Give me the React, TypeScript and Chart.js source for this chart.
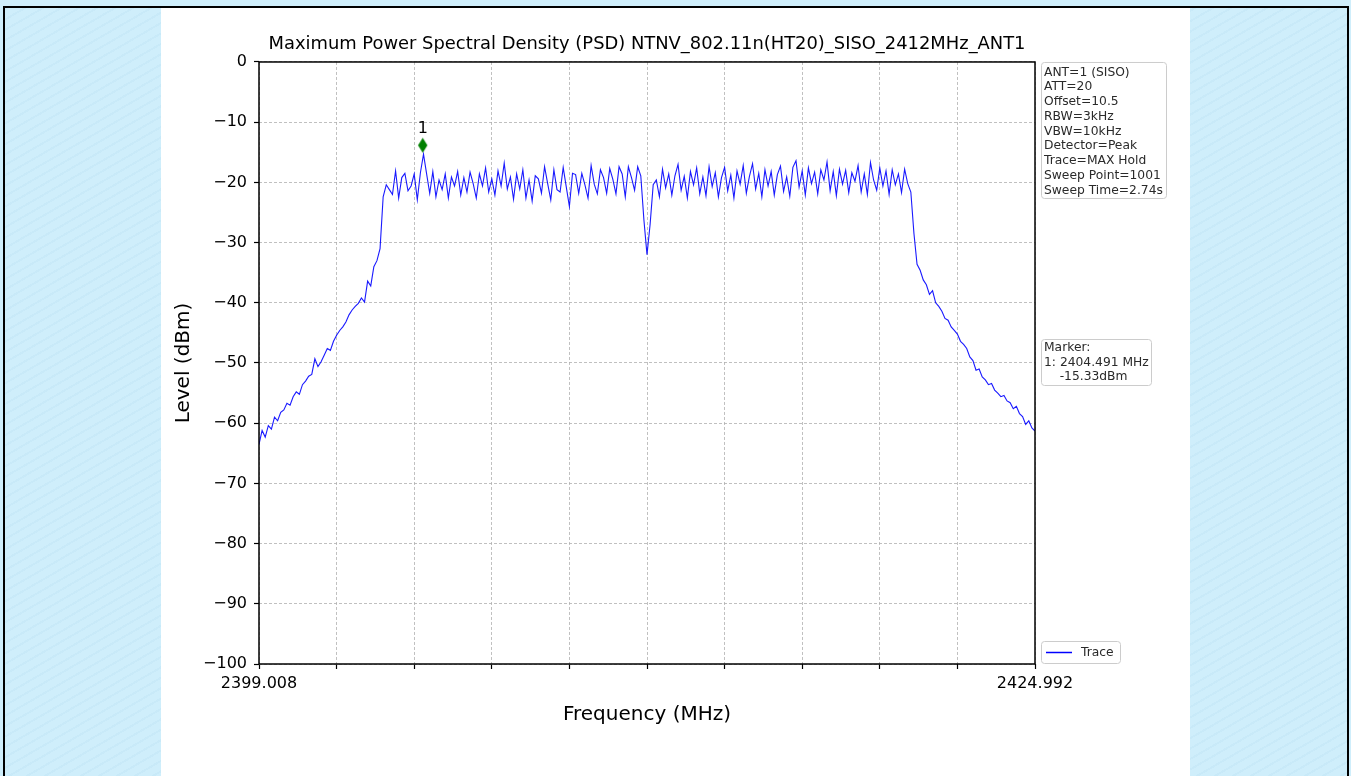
import React, { useEffect, useRef } from 'react';
import { Chart, registerables } from 'chart.js';

Chart.register(...registerables);

const FONT = '"DejaVu Sans", "Liberation Sans", sans-serif';

const START_FREQ = 2399.008;
const STOP_FREQ = 2424.992;

const chartTitle = 'Maximum Power Spectral Density (PSD) NTNV_802.11n(HT20)_SISO_2412MHz_ANT1';
const xAxisTitle = 'Frequency (MHz)';
const yAxisTitle = 'Level (dBm)';

// Trace levels (dBm), evenly spaced sweep points from START_FREQ to STOP_FREQ
const levels = [
  -63.5, -61.2, -62.3, -60.4, -61.0, -59.0, -59.6, -58.2, -57.8, -56.7,
  -57.0, -55.6, -54.8, -55.2, -53.6, -53.0, -52.2, -51.9, -49.3, -50.6,
  -49.8, -48.7, -47.6, -47.9, -46.4, -45.4, -44.6, -44.0, -43.2, -42.0,
  -41.2, -40.6, -40.1, -39.2, -39.9, -36.4, -37.2, -34.0, -33.0, -31.0,
  -22.4, -20.4, -21.2, -22.0, -18.1, -22.6, -19.2, -18.5, -21.4, -20.6,
  -18.6, -22.9, -18.4, -15.3, -18.6, -21.8, -18.2, -22.4, -19.6, -21.2,
  -18.6, -22.6, -19.1, -20.6, -18.2, -22.1, -19.2, -21.6, -18.3, -20.2,
  -22.6, -18.6, -20.6, -17.6, -21.6, -19.4, -22.1, -18.1, -20.6, -16.8,
  -21.1, -19.1, -22.8, -18.6, -21.1, -17.9, -22.6, -19.6, -23.1, -18.9,
  -19.4, -21.8, -17.4, -20.2, -22.9, -17.9, -21.2, -21.6, -17.5, -20.8,
  -24.0, -18.5, -18.7, -21.8, -18.5, -20.4, -22.6, -17.2, -20.3, -21.9,
  -17.9, -19.2, -21.8, -17.7, -19.5, -21.9, -17.4, -18.6, -22.4, -17.4,
  -19.2, -21.3, -17.4, -18.9, -26.2, -32.0, -27.0, -20.4, -19.6, -22.4,
  -17.8, -20.9, -18.6, -22.1, -18.9, -17.0, -21.3, -19.0, -22.6, -18.2,
  -20.4, -17.6, -21.9, -19.1, -22.2, -17.4, -20.7, -18.4, -22.4, -19.2,
  -17.5, -21.4, -18.8, -22.6, -18.1, -20.3, -17.2, -21.8, -19.0, -16.9,
  -21.1, -18.5, -22.4, -17.9, -20.6, -18.2, -22.1, -18.7, -17.3, -21.5,
  -19.1, -22.3, -17.5, -16.4, -20.8, -18.1, -22.1, -17.6, -20.2, -18.3,
  -21.9, -17.9, -19.6, -16.6, -21.4, -18.2, -22.2, -17.8, -20.3, -18.0,
  -21.7, -18.4, -19.8, -17.2, -21.6, -18.6, -22.0, -16.7, -19.6, -21.3,
  -17.6, -20.6, -18.1, -22.0, -17.9, -20.4, -18.6, -21.7, -17.8, -20.2,
  -21.6, -28.5, -33.6, -34.6, -36.2, -37.0, -38.6, -38.0, -40.0, -40.6,
  -41.4, -42.6, -42.9, -44.0, -44.6, -45.2, -46.4, -46.9, -47.6, -49.0,
  -49.6, -51.2, -51.0, -52.3, -52.8, -53.6, -53.4, -54.5, -55.0, -55.6,
  -55.4, -56.3, -56.6, -57.6, -57.2, -58.4, -58.9, -60.2, -59.6, -60.8,
  -61.3,
];

const yTickValues = [0, -10, -20, -30, -40, -50, -60, -70, -80, -90, -100];
const xTickLabels = ['2399.008', '', '', '', '', '', '', '', '', '', '2424.992'];

const markerFreq = 2404.491;
const markerLevel = -15.33;
const markerName = '1';

const infoLines = [
  'ANT=1 (SISO)',
  'ATT=20',
  'Offset=10.5',
  'RBW=3kHz',
  'VBW=10kHz',
  'Detector=Peak',
  'Trace=MAX Hold',
  'Sweep Point=1001',
  'Sweep Time=2.74s',
];
const markerLines = ['Marker:', '1: 2404.491 MHz', '    -15.33dBm'];
const legendLabel = 'Trace';

function makeDiamond(): HTMLCanvasElement {
  const c = document.createElement('canvas');
  c.width = 11;
  c.height = 34;
  const g = c.getContext('2d')!;
  g.fillStyle = '#008000';
  g.beginPath();
  g.moveTo(5.5, 0.5);
  g.lineTo(10.2, 8);
  g.lineTo(5.5, 15.5);
  g.lineTo(0.8, 8);
  g.closePath();
  g.fill();
  return c;
}

function roundRect(ctx: CanvasRenderingContext2D, x: number, y: number, w: number, h: number, r: number) {
  ctx.beginPath();
  ctx.moveTo(x + r, y);
  ctx.lineTo(x + w - r, y);
  ctx.quadraticCurveTo(x + w, y, x + w, y + r);
  ctx.lineTo(x + w, y + h - r);
  ctx.quadraticCurveTo(x + w, y + h, x + w - r, y + h);
  ctx.lineTo(x + r, y + h);
  ctx.quadraticCurveTo(x, y + h, x, y + h - r);
  ctx.lineTo(x, y + r);
  ctx.quadraticCurveTo(x, y, x + r, y);
  ctx.closePath();
}

const decorPlugin = {
  id: 'decor',
  afterDraw(chart: any) {
    const ctx: CanvasRenderingContext2D = chart.ctx;
    const a = chart.chartArea;
    ctx.save();
    // frame
    ctx.strokeStyle = '#000';
    ctx.lineWidth = 1.5;
    ctx.strokeRect(a.left, a.top, a.right - a.left, a.bottom - a.top);

    // marker label
    const mp = chart.getDatasetMeta(0).data[0];
    if (mp) {
      ctx.fillStyle = '#000';
      ctx.font = `16px ${FONT}`;
      ctx.textAlign = 'center';
      ctx.textBaseline = 'middle';
      ctx.fillText(markerName, mp.x, mp.y - 25);
    }

    const bx = a.right + 6.5;
    ctx.textAlign = 'left';
    ctx.textBaseline = 'middle';
    ctx.font = `12.3px ${FONT}`;

    // info box
    roundRect(ctx, bx, a.top + 0.5, 125, 136, 3);
    ctx.fillStyle = 'rgba(255,255,255,0.85)';
    ctx.fill();
    ctx.strokeStyle = '#cccccc';
    ctx.lineWidth = 1;
    ctx.stroke();
    ctx.fillStyle = '#2a2a2a';
    infoLines.forEach((t, i) => ctx.fillText(t, bx + 2.5, a.top + 10.5 + i * 14.75));

    // marker box
    const my = 339.5;
    roundRect(ctx, bx, my, 110, 46, 3);
    ctx.fillStyle = 'rgba(255,255,255,0.85)';
    ctx.fill();
    ctx.strokeStyle = '#cccccc';
    ctx.stroke();
    ctx.fillStyle = '#2a2a2a';
    markerLines.forEach((t, i) => ctx.fillText(t, bx + 2.5, my + 8.5 + i * 14.5));

    // trace legend
    const ly = a.bottom - 22.5;
    roundRect(ctx, bx, ly, 79, 22, 3);
    ctx.fillStyle = 'rgba(255,255,255,0.85)';
    ctx.fill();
    ctx.strokeStyle = '#cccccc';
    ctx.stroke();
    ctx.strokeStyle = '#0000ff';
    ctx.lineWidth = 1.5;
    ctx.beginPath();
    ctx.moveTo(bx + 4.5, ly + 11);
    ctx.lineTo(bx + 30.5, ly + 11);
    ctx.stroke();
    ctx.fillStyle = '#2a2a2a';
    ctx.fillText(legendLabel, bx + 39.5, ly + 11);
    ctx.restore();
  },
};

export default function App() {
  const ref = useRef<HTMLCanvasElement>(null);

  useEffect(() => {
    if (!ref.current) return;
    const n = levels.length;
    const step = (STOP_FREQ - START_FREQ) / (n - 1);
    const traceData = levels.map((v, i) => ({ x: START_FREQ + i * step, y: v }));
    const xTickValues = xTickLabels.map((_, i) => START_FREQ + (i * (STOP_FREQ - START_FREQ)) / (xTickLabels.length - 1));

    const chart = new Chart(ref.current, {
      type: 'line',
      data: {
        datasets: [
          {
            label: 'Marker',
            data: [{ x: markerFreq, y: markerLevel }],
            showLine: false,
            pointStyle: makeDiamond() as any,
            pointRadius: 5,
            order: 0,
          },
          {
            label: legendLabel,
            data: traceData,
            borderColor: 'rgba(0,0,255,0.9)',
            borderWidth: 1.1,
            pointRadius: 0,
            tension: 0,
            fill: false,
            order: 1,
          },
        ],
      },
      options: {
        responsive: false,
        animation: false,
        events: [],
        layout: { padding: { left: 160, right: 316, top: 34, bottom: 36 } },
        plugins: {
          legend: { display: false },
          tooltip: { enabled: false },
          title: {
            display: true,
            text: chartTitle,
            fullSize: false,
            color: '#000',
            font: { family: FONT, size: 17.9, weight: 'normal', lineHeight: 1.2 },
            padding: { top: 0, bottom: 6.5 },
          },
        },
        scales: {
          x: {
            type: 'linear',
            min: START_FREQ,
            max: STOP_FREQ,
            afterBuildTicks: (s: any) => {
              s.ticks = xTickValues.map((v) => ({ value: v }));
            },
            afterFit: (s: any) => {
              s.height = 76;
            },
            ticks: {
              autoSkip: false,
              maxRotation: 0,
              padding: 5,
              color: '#000',
              font: { family: FONT, size: 16 },
              callback: (_v: any, i: number) => xTickLabels[i],
            },
            grid: { color: '#b0b0b0', lineWidth: 0.8, tickColor: '#000', tickLength: 5, tickWidth: 1.2 },
            border: { display: false, dash: [3, 2] },
            title: {
              display: true,
              text: xAxisTitle,
              color: '#000',
              font: { family: FONT, size: 20 },
              padding: { top: 0, bottom: 13 },
            },
          },
          y: {
            type: 'linear',
            min: -100,
            max: 0,
            afterBuildTicks: (s: any) => {
              s.ticks = yTickValues.map((v) => ({ value: v }));
            },
            afterFit: (s: any) => {
              s.width = 99;
            },
            ticks: {
              padding: 7,
              color: '#000',
              font: { family: FONT, size: 16 },
              callback: (v: any) => (Number(v) < 0 ? '\u2212' + Math.abs(Number(v)) : String(v)),
            },
            grid: { color: '#b0b0b0', lineWidth: 0.8, tickColor: '#000', tickLength: 5, tickWidth: 1.2 },
            border: { display: false, dash: [3, 2] },
            title: {
              display: true,
              text: yAxisTitle,
              color: '#000',
              font: { family: FONT, size: 20 },
              padding: { top: 12, bottom: 0 },
            },
          },
        },
      } as any,
      plugins: [decorPlugin],
    });
    return () => chart.destroy();
  }, []);

  const blue = 'rgb(207,238,251)';
  const pattern =
    'repeating-linear-gradient(150deg, rgba(180,220,240,0.25) 0px, rgba(180,220,240,0.25) 2px, transparent 2px, transparent 9px)';

  return (
    <div style={{ position: 'fixed', left: 0, top: 0, width: 1351, height: 776, overflow: 'hidden', background: blue }}>
      <div
        style={{
          position: 'absolute',
          left: 3,
          top: 6,
          width: 1342,
          height: 800,
          border: '2px solid #000',
          background: blue,
          backgroundImage: pattern,
        }}
      />
      <div style={{ position: 'absolute', left: 161, top: 8, width: 1029, height: 780, background: '#fff' }} />
      <canvas ref={ref} width={1351} height={776} style={{ position: 'absolute', left: 0, top: 0, width: 1351, height: 776 }} />
    </div>
  );
}
